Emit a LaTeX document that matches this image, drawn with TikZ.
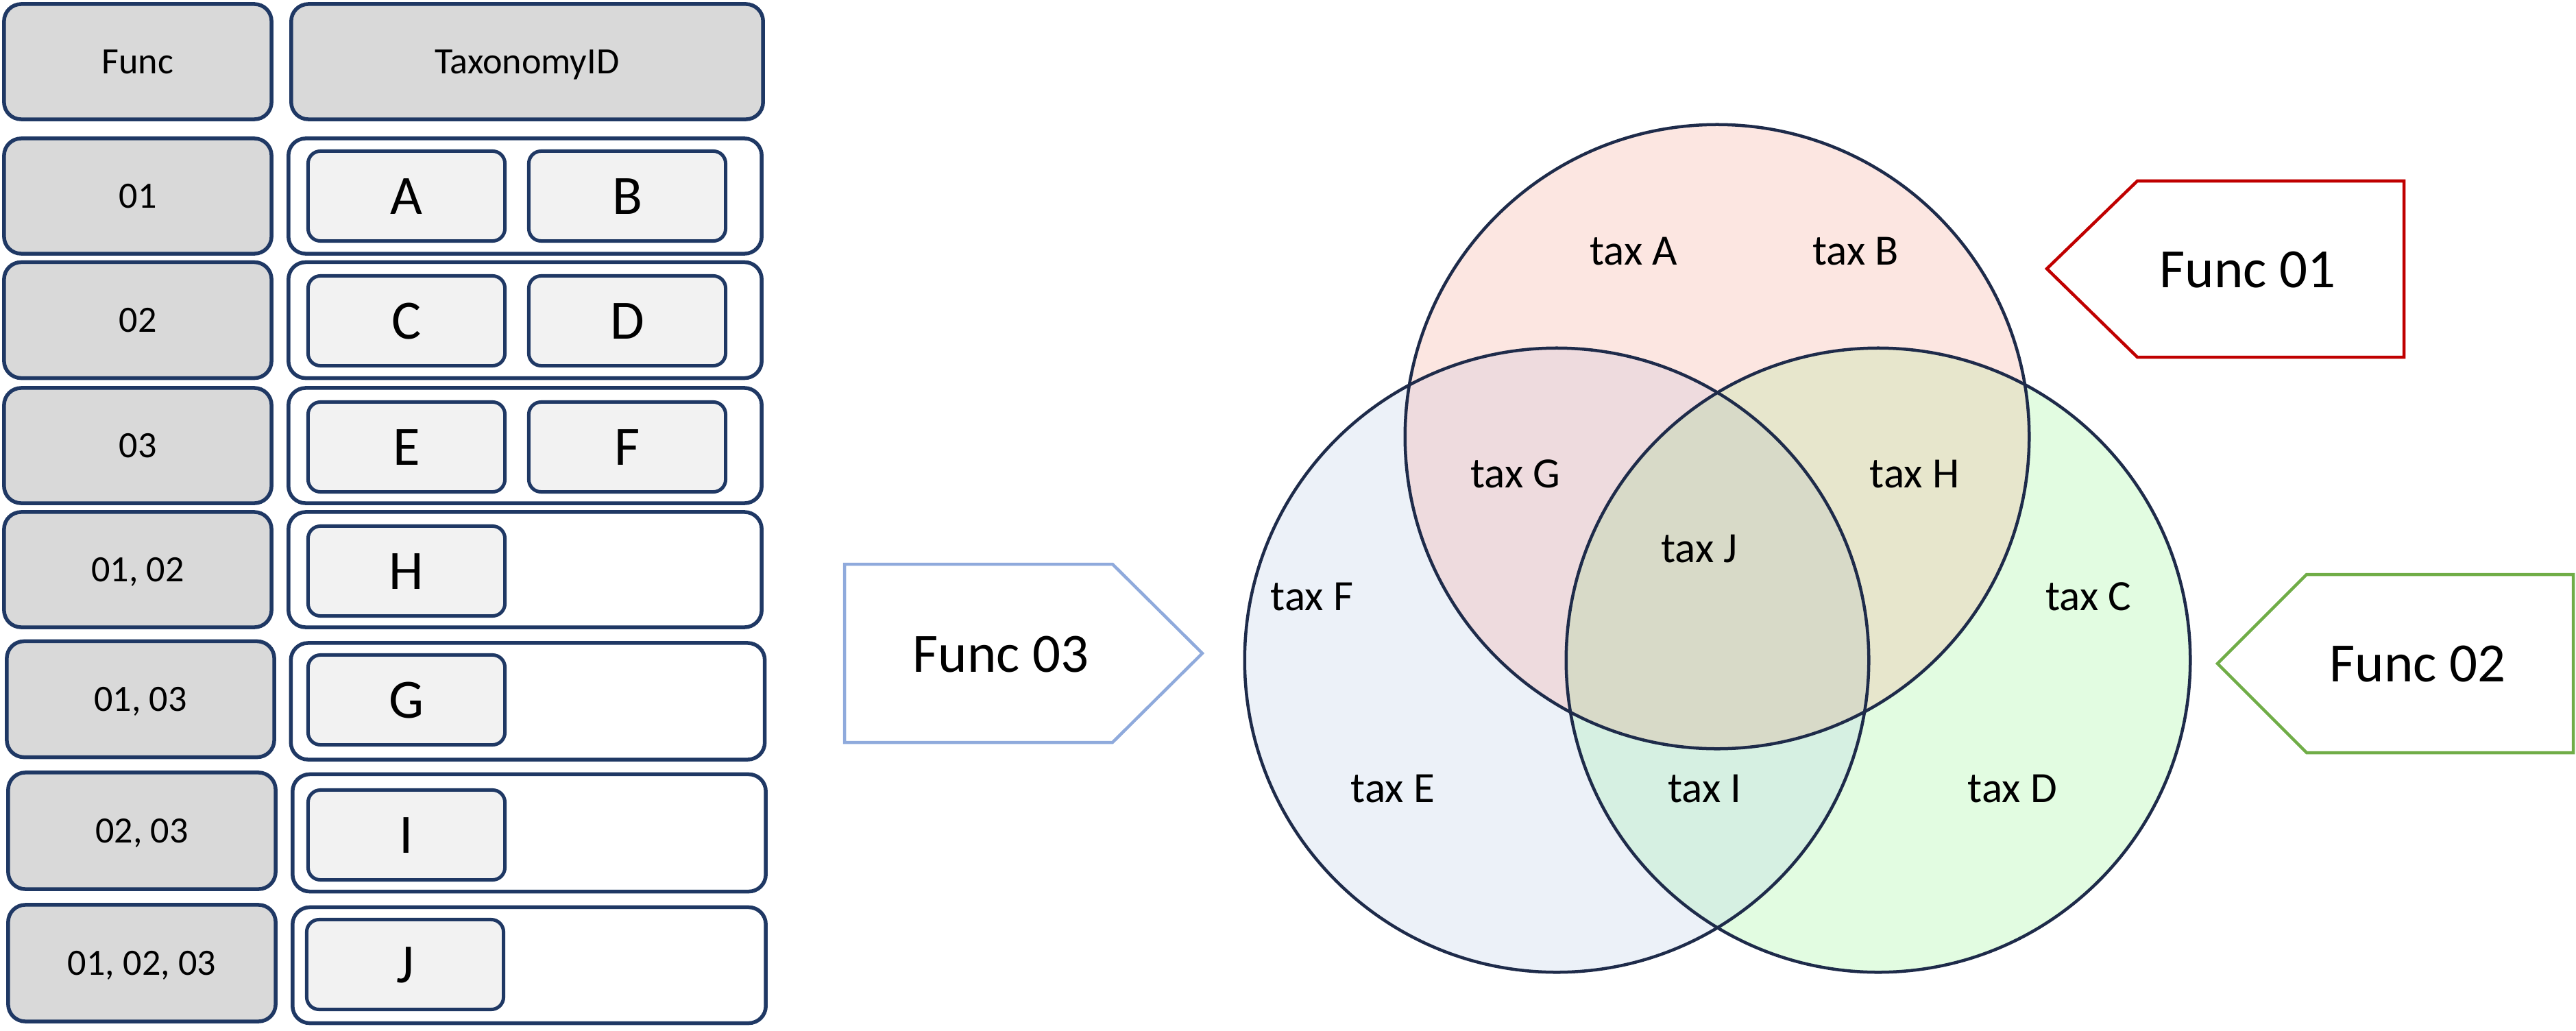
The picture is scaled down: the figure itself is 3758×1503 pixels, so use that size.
\documentclass[tikz,border=0pt]{standalone}
\usepackage{fontspec}
\setmainfont{Carlito}
\definecolor{navyc}{HTML}{1F3864}
\definecolor{ringc}{HTML}{1E2B4A}
\definecolor{grayc}{HTML}{D9D9D9}
\definecolor{lightc}{HTML}{F2F2F2}
\definecolor{bluec}{HTML}{8FAADC}
\definecolor{redc}{HTML}{C00000}
\definecolor{greenc}{HTML}{70AD47}
\definecolor{topc}{HTML}{FCE6E1}
\definecolor{leftc}{HTML}{ECF1F8}
\definecolor{rightc}{HTML}{E2FCE1}
\definecolor{tlc}{HTML}{EEDBDE}
\definecolor{trc}{HTML}{E7E6CC}
\definecolor{lrc}{HTML}{D6F0E2}
\definecolor{allc}{HTML}{D8DAC8}
\begin{document}
\begin{tikzpicture}[x=0.01cm,y=-0.01cm,
  tbl/.style={draw=navyc, line width=0.055cm, rounded corners=0.25cm, inner sep=0pt,
    font=\fontsize{15.4}{18}\selectfont, text height=0.348cm, text depth=0pt},
  hdr/.style={tbl, fill=grayc},
  grp/.style={tbl, fill=white},
  idb/.style={draw=navyc, line width=0.05cm, rounded corners=0.18cm, fill=lightc,
    minimum width=2.87cm, minimum height=1.31cm, inner sep=0pt,
    font=\fontsize{23}{27}\selectfont, text height=0.52cm, text depth=0pt},
  vlab/.style={font=\fontsize{17.9}{21}\selectfont, inner sep=0pt, text height=0.40cm, text depth=0pt},
  flab/.style={font=\fontsize{23}{27}\selectfont, inner sep=0pt, text height=0.52cm, text depth=0pt},
  ring/.style={draw=ringc, line width=0.045cm},
  tag/.style={line width=0.045cm, fill=white, line join=miter}
]
\useasboundingbox (0,0) rectangle (3758,1503);

% ---------- table ----------
\node[hdr, minimum width=3.90cm, minimum height=1.68cm] (fh) at (201,90) {Func};
\node[hdr, minimum width=6.88cm, minimum height=1.68cm] (th) at (769,90) {TaxonomyID};

\node[hdr, minimum width=3.90cm, minimum height=1.68cm] (f1) at (201,286) {01};
\node[grp, minimum width=6.90cm, minimum height=1.68cm] (g1) at (766,286) {};
\node[idb] (iA) at (593,286) {A};
\node[idb] (iB) at (915,286) {B};

\node[hdr, minimum width=3.90cm, minimum height=1.69cm] (f2) at (201,467) {02};
\node[grp, minimum width=6.90cm, minimum height=1.69cm] (g2) at (766,467) {};
\node[idb] (iC) at (593,468) {C};
\node[idb] (iD) at (915,468) {D};

\node[hdr, minimum width=3.90cm, minimum height=1.68cm] (f3) at (201,650) {03};
\node[grp, minimum width=6.90cm, minimum height=1.68cm] (g3) at (766,650) {};
\node[idb] (iE) at (593,652) {E};
\node[idb] (iF) at (915,652) {F};

\node[hdr, minimum width=3.90cm, minimum height=1.68cm] (f4) at (201,831) {01, 02};
\node[grp, minimum width=6.90cm, minimum height=1.68cm] (g4) at (766,831) {};
\node[idb] (iH) at (593,833) {H};

\node[hdr, minimum width=3.90cm, minimum height=1.69cm] (f5) at (205,1020) {01, 03};
\node[grp, minimum width=6.91cm, minimum height=1.70cm] (g5) at (770,1023) {};
\node[idb] (iG) at (593,1021) {G};

\node[hdr, minimum width=3.90cm, minimum height=1.70cm] (f6) at (207,1212) {02, 03};
\node[grp, minimum width=6.90cm, minimum height=1.71cm] (g6) at (772,1215) {};
\node[idb] (iI) at (593,1218) {I};

\node[hdr, minimum width=3.90cm, minimum height=1.70cm] (f7) at (207,1405) {01, 02, 03};
\node[grp, minimum width=6.90cm, minimum height=1.69cm] (g7) at (772,1408) {};
\node[idb] (iJ) at (591,1407) {J};

% ---------- Venn ----------
\coordinate (ct) at (2505,637);
\coordinate (cl) at (2271,963);
\coordinate (cr) at (2740,963);
\fill[topc] (ct) circle[radius=4.55cm];
\fill[leftc] (cl) circle[radius=4.55cm];
\fill[rightc] (cr) circle[radius=4.55cm];
\begin{scope}\clip (ct) circle[radius=4.55cm]; \fill[tlc] (cl) circle[radius=4.55cm]; \end{scope}
\begin{scope}\clip (ct) circle[radius=4.55cm]; \fill[trc] (cr) circle[radius=4.55cm]; \end{scope}
\begin{scope}\clip (cl) circle[radius=4.55cm]; \fill[lrc] (cr) circle[radius=4.55cm]; \end{scope}
\begin{scope}\clip (ct) circle[radius=4.55cm]; \clip (cl) circle[radius=4.55cm]; \fill[allc] (cr) circle[radius=4.55cm]; \end{scope}
\draw[ring] (ct) circle[radius=4.55cm];
\draw[ring] (cl) circle[radius=4.55cm];
\draw[ring] (cr) circle[radius=4.55cm];

\node[vlab] (tA) at (2383,366) {tax A};
\node[vlab] (tB) at (2707,366) {tax B};
\node[vlab] (tG) at (2211,691) {tax G};
\node[vlab] (tH) at (2793,691) {tax H};
\node[vlab] (tJ) at (2479,800) {tax J};
\node[vlab] (tF) at (1914,870) {tax F};
\node[vlab] (tC) at (3047,870) {tax C};
\node[vlab] (tE) at (2032,1150) {tax E};
\node[vlab] (tI) at (2487,1150) {tax I};
\node[vlab] (tD) at (2936,1150) {tax D};

% ---------- tags ----------
\draw[tag, draw=bluec] (1232,823) -- (1623,823) -- (1754,953) -- (1623,1083) -- (1232,1083) -- cycle;
\node[flab] (f03) at (1460,954) {Func 03};

\draw[tag, draw=redc] (2986,392) -- (3118,264) -- (3507,264) -- (3507,521) -- (3118,521) -- cycle;
\node[flab] (f01) at (3279,393) {Func 01};

\draw[tag, draw=greenc] (3235,968) -- (3365,838) -- (3754,838) -- (3754,1098) -- (3365,1098) -- cycle;
\node[flab] (f02) at (3527,968) {Func 02};
\end{tikzpicture}
\end{document}
